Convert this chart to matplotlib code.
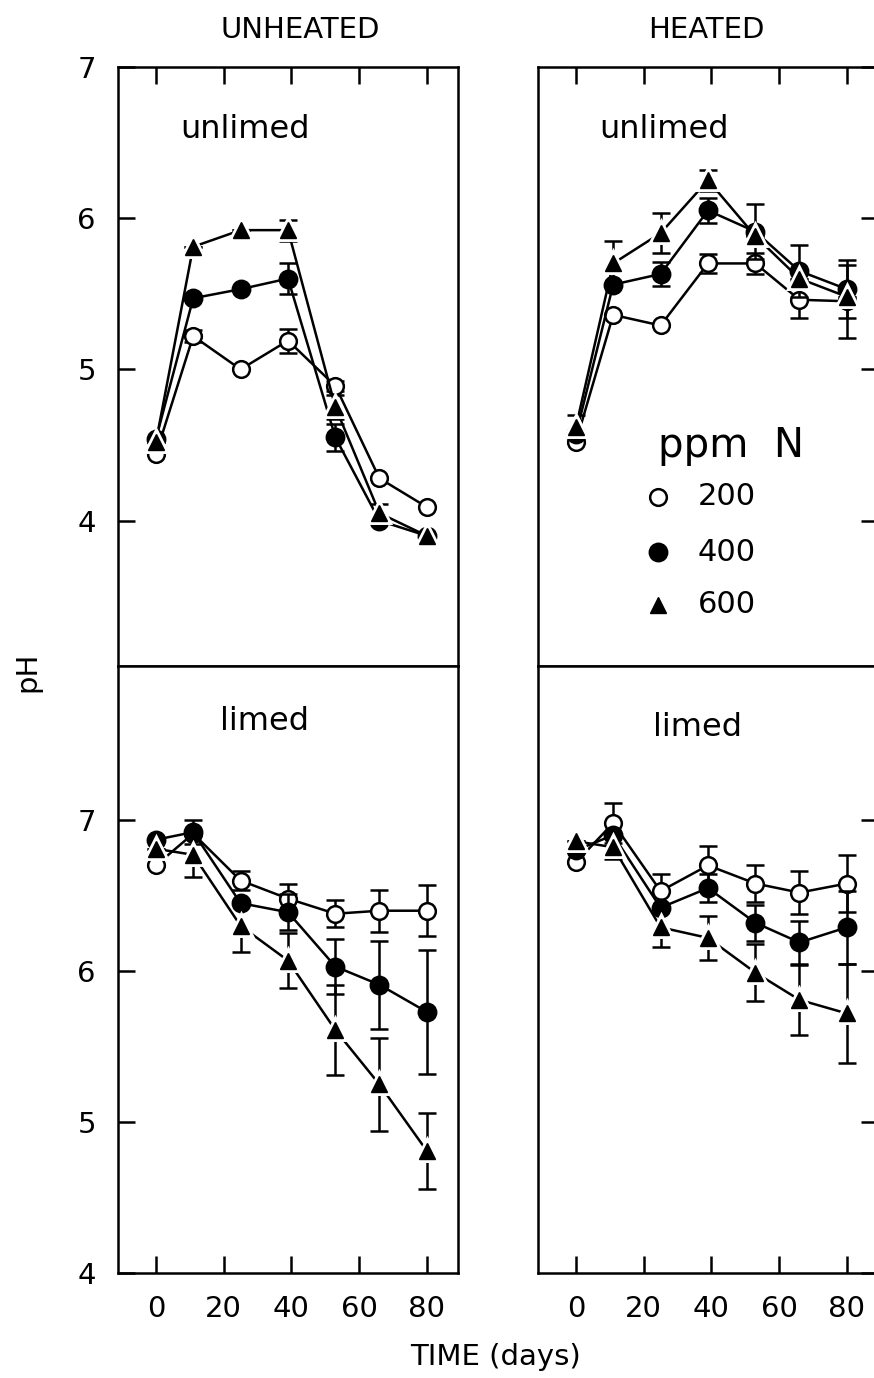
import matplotlib
matplotlib.use("Agg")
import matplotlib.pyplot as plt

# Sampling days
days = [0, 11, 25, 39, 53, 66, 80]

# UNHEATED, unlimed
uu_200 = [4.44, 5.22, 5.00, 5.19, 4.89, 4.28, 4.09]
uu_200_err = [0, 0.04, 0, 0.08, 0.03, 0, 0]
uu_400 = [4.54, 5.47, 5.53, 5.60, 4.55, 4.00, 3.90]
uu_400_err = [0, 0, 0, 0.10, 0.09, 0, 0]
uu_600 = [4.52, 5.81, 5.92, 5.92, 4.75, 4.05, 3.90]
uu_600_err = [0, 0, 0, 0.07, 0.08, 0.06, 0]

# HEATED, unlimed
hu_200 = [4.52, 5.36, 5.29, 5.70, 5.70, 5.46, 5.45]
hu_200_err = [0, 0, 0, 0.06, 0.07, 0.12, 0.24]
hu_400 = [4.57, 5.56, 5.63, 6.05, 5.91, 5.65, 5.53]
hu_400_err = [0, 0, 0.08, 0.085, 0.18, 0.17, 0.19]
hu_600 = [4.62, 5.70, 5.90, 6.25, 5.88, 5.60, 5.48]
hu_600_err = [0.08, 0.15, 0.13, 0.07, 0, 0, 0]

# UNHEATED, limed
ul_200 = [6.70, 6.91, 6.60, 6.48, 6.38, 6.40, 6.40]
ul_200_err = [0, 0, 0.06, 0.10, 0.09, 0.14, 0.17]
ul_400 = [6.87, 6.92, 6.45, 6.39, 6.03, 5.91, 5.73]
ul_400_err = [0, 0.08, 0, 0.12, 0.18, 0.29, 0.41]
ul_600 = [6.81, 6.77, 6.30, 6.07, 5.61, 5.25, 4.81]
ul_600_err = [0, 0.15, 0.17, 0.18, 0.30, 0.31, 0.25]

# HEATED, limed
hl_200 = [6.72, 6.98, 6.53, 6.70, 6.58, 6.52, 6.58]
hl_200_err = [0, 0.13, 0.11, 0.13, 0.12, 0.14, 0.19]
hl_400 = [6.80, 6.90, 6.42, 6.55, 6.32, 6.19, 6.29]
hl_400_err = [0, 0, 0, 0.09, 0.12, 0.14, 0.24]
hl_600 = [6.86, 6.82, 6.29, 6.22, 5.99, 5.81, 5.72]
hl_600_err = [0, 0.08, 0.13, 0.145, 0.19, 0.23, 0.33]

n_levels = ["200", "400", "600"]
col_titles = ["UNHEATED", "HEATED"]
row_labels = ["unlimed", "limed"]
x_ticks = [0, 20, 40, 60, 80]
y_ticks = [4, 5, 6, 7]

plt.rcParams["font.family"] = ["DejaVu Sans"]

LW = 1.8
FS = 21

styles = {
    "200": dict(marker="o", ms=12, mfc="white", mec="black", mew=LW),
    "400": dict(marker="o", ms=12.5, mfc="black", mec="black", mew=LW),
    "600": dict(marker="^", ms=11, mfc="black", mec="black", mew=1.0),
}


def draw_series(ax, y, err, level, z):
    st = styles[level]
    ax.plot(days, y, color="black", lw=LW, zorder=z)
    ax.errorbar(days, y, yerr=err, fmt="none", ecolor="black",
                elinewidth=LW, capsize=6.5, capthick=LW, zorder=z)
    if level == "600":
        # white halo so connecting lines stop short of the triangles
        ax.plot(days, y, ls="none", marker="^", ms=st["ms"],
                mfc="white", mec="white", mew=5, zorder=z + 0.5)
    ax.plot(days, y, ls="none", zorder=z + 1, **st)


fig = plt.figure(figsize=(8.74, 13.78), dpi=100)

W = 340 / 874
lefts = [118 / 874, 538 / 874]
top_box = (0.5167, 0.4349)
bot_box = (0.0760, 0.4407)

panels = {
    (0, 0): [(uu_200, uu_200_err), (uu_400, uu_400_err), (uu_600, uu_600_err)],
    (0, 1): [(hu_200, hu_200_err), (hu_400, hu_400_err), (hu_600, hu_600_err)],
    (1, 0): [(ul_200, ul_200_err), (ul_400, ul_400_err), (ul_600, ul_600_err)],
    (1, 1): [(hl_200, hl_200_err), (hl_400, hl_400_err), (hl_600, hl_600_err)],
}

label_pos = {
    (0, 0): (0.374, 0.895),
    (0, 1): (0.371, 0.895),
    (1, 0): (0.432, 0.908),
    (1, 1): (0.468, 0.898),
}

axes = {}
for r in range(2):
    for c in range(2):
        b, h = top_box if r == 0 else bot_box
        ax = fig.add_axes([lefts[c], b, W, h])
        axes[(r, c)] = ax
        ax.set_xlim(-11.2, 89.2)
        ax.set_ylim((3.04, 7.0) if r == 0 else (4.0, 8.02))
        ax.set_xticks(x_ticks)
        ax.set_yticks(y_ticks)
        for sp in ax.spines.values():
            sp.set_linewidth(LW)
        ax.tick_params(direction="in", length=12, width=LW,
                       labelsize=FS, pad=16)
        if r == 0:
            ax.tick_params(axis="x", bottom=False, top=True,
                           labelbottom=False, labeltop=False)
        else:
            ax.tick_params(axis="x", bottom=True, top=False,
                           labelbottom=True)
        if c == 0:
            ax.tick_params(axis="y", left=True, right=False,
                           labelleft=True)
        else:
            ax.tick_params(axis="y", left=False, right=True,
                           labelleft=False, labelright=False)

        for i, (lvl, (y, e)) in enumerate(zip(n_levels, panels[(r, c)])):
            draw_series(ax, y, e, lvl, 3 + 2 * i)

        lx, ly = label_pos[(r, c)]
        ax.text(lx, ly, row_labels[r], transform=ax.transAxes,
                fontsize=23, ha="center", va="center")

# Legend in the heated / unlimed panel
lax = axes[(0, 1)]
lax.text(0.353, 0.349, "ppm  N", transform=lax.transAxes,
         fontsize=29, ha="left", va="baseline")
leg_y = [0.282, 0.190, 0.102]
for lvl, yy in zip(n_levels, leg_y):
    st = dict(styles[lvl])
    lax.plot([0.353], [yy], transform=lax.transAxes, ls="none",
             clip_on=False, zorder=10, **st)
    lax.text(0.47, yy, lvl, transform=lax.transAxes, fontsize=22,
             ha="left", va="center")

# Column titles and axis labels
fig.text(300 / 874, 1 - 30 / 1378, col_titles[0], fontsize=FS,
         ha="center", va="center")
fig.text(706 / 874, 1 - 30 / 1378, col_titles[1], fontsize=FS,
         ha="center", va="center")
fig.text(27 / 874, 1 - 672 / 1378, "pH", fontsize=FS, rotation=90,
         ha="center", va="center")
fig.text(496 / 874, 1 - 1357 / 1378, "TIME (days)", fontsize=FS,
         ha="center", va="center")

fig.savefig("out.png", dpi=100)
